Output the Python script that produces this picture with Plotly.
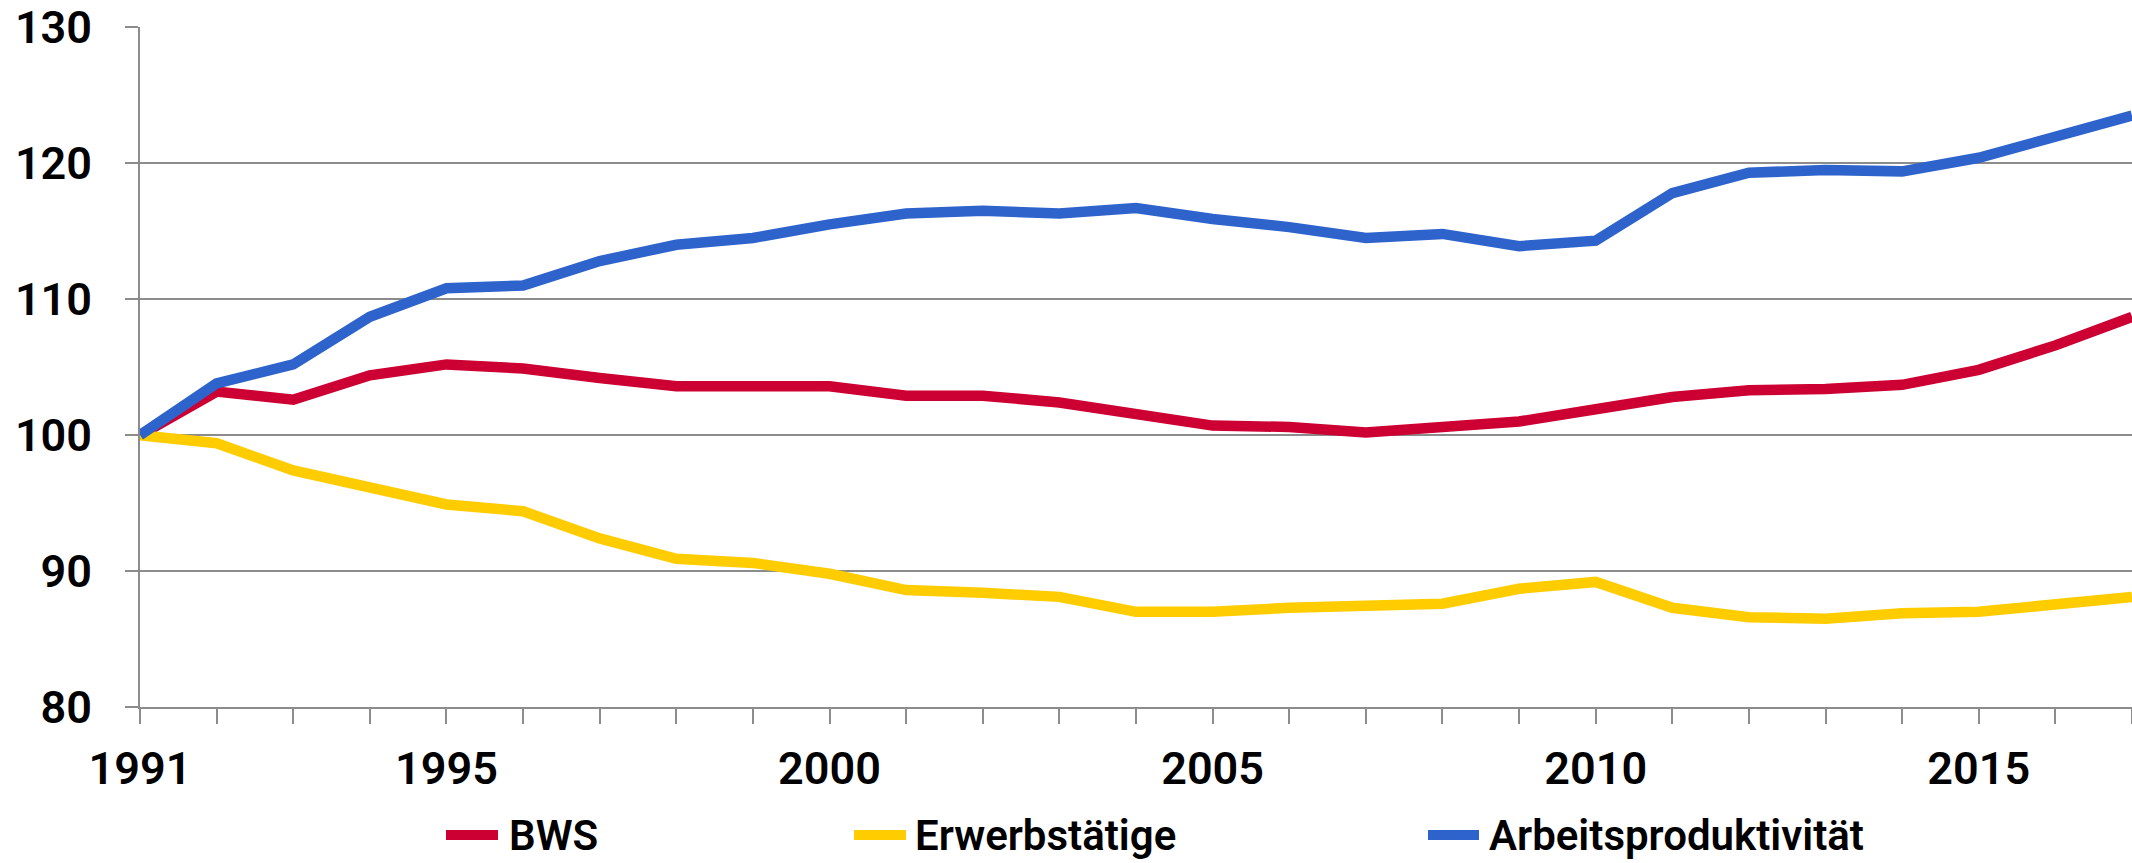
import plotly.graph_objects as go

# Index values, 1991 = 100
years = list(range(1991, 2018))

bws = [100.0, 103.2, 102.6, 104.4, 105.2, 104.9, 104.2, 103.6, 103.6, 103.6,
       102.9, 102.9, 102.4, 101.6, 100.7, 100.6, 100.2, 100.6, 101.0, 101.9,
       102.8, 103.3, 103.4, 103.7, 104.8, 106.6, 108.7]

erwerbstaetige = [100.0, 99.4, 97.4, 96.1, 94.9, 94.4, 92.4, 90.9, 90.6, 89.8,
                  88.6, 88.4, 88.1, 87.0, 87.0, 87.3, 87.5, 87.6, 88.7, 89.2,
                  87.3, 86.6, 86.5, 86.9, 87.0, 87.5, 88.1]

arbeitsproduktivitaet = [100.0, 103.8, 105.2, 108.7, 110.8, 111.0, 112.8, 114.0, 114.5, 115.5,
                         116.3, 116.5, 116.3, 116.7, 115.9, 115.3, 114.5, 114.8, 113.9, 114.3,
                         117.8, 119.3, 119.5, 119.4, 120.4, 121.9, 123.5]

series_names = ["BWS", "Erwerbstätige", "Arbeitsproduktivität"]
series_values = [bws, erwerbstaetige, arbeitsproduktivitaet]
series_colors = ["#CC0033", "#FFCC00", "#2E63CC"]

x_label_years = [1991, 1995, 2000, 2005, 2010, 2015]
y_ticks = [80, 90, 100, 110, 120, 130]

W, H = 2132, 863
M_L, M_R, M_T, M_B = 140, 0, 27, 156
PLOT_W = W - M_L - M_R
PLOT_H = H - M_T - M_B

FONT = "Roboto"
GRID = "#8C8C8C"
TICK_FONT = dict(family=FONT, size=45, color="#000000", weight=600)
LEGEND_FONT = dict(family=FONT, size=42, color="#000000", weight=600)


def px_x(px):
    return (px - M_L) / PLOT_W


def px_y(py):
    return (H - M_B - py) / PLOT_H


fig = go.Figure()
for name, vals, col in zip(series_names, series_values, series_colors):
    fig.add_trace(go.Scatter(
        x=years, y=vals, mode="lines", name=name,
        line=dict(color=col, width=10.5), showlegend=False,
    ))

# Legend drawn as swatch + label rows under the axis
legend_pos = [(442, 502, 507), (850, 910, 913), (1424, 1483, 1487)]
legend_y = 835
for name, col, (x0, x1, xt) in zip(series_names, series_colors, legend_pos):
    fig.add_shape(type="line", xref="paper", yref="paper",
                  x0=px_x(x0 + 4), x1=px_x(x1 - 4),
                  y0=px_y(legend_y), y1=px_y(legend_y),
                  line=dict(color=col, width=10))
    fig.add_annotation(xref="paper", yref="paper", x=px_x(xt), y=px_y(legend_y),
                       text=name, showarrow=False, xanchor="left", yanchor="middle",
                       font=LEGEND_FONT)

fig.update_layout(
    width=W, height=H,
    margin=dict(l=M_L, r=M_R, t=M_T, b=M_B, pad=0),
    paper_bgcolor="white", plot_bgcolor="white",
    font=TICK_FONT,
    showlegend=False,
)

fig.update_xaxes(
    range=[1991, 2017], tickmode="array", tickvals=years,
    ticktext=[str(y) if y in x_label_years else "" for y in years],
    ticks="outside", ticklen=15, tickwidth=2, tickcolor=GRID,
    showgrid=False, showline=True, linecolor=GRID, linewidth=2,
    zeroline=False, ticklabelstandoff=6, ticklabeloverflow="allow",
    tickfont=TICK_FONT,
)
fig.update_yaxes(
    range=[80, 130.02], tickmode="array", tickvals=y_ticks,
    ticks="outside", ticklen=13, tickwidth=2, tickcolor=GRID,
    showgrid=True, gridcolor=GRID, gridwidth=2,
    showline=True, linecolor=GRID, linewidth=2,
    zeroline=False, ticklabelstandoff=24, ticklabeloverflow="allow",
    tickfont=TICK_FONT,
)

fig.write_html("out.html")
